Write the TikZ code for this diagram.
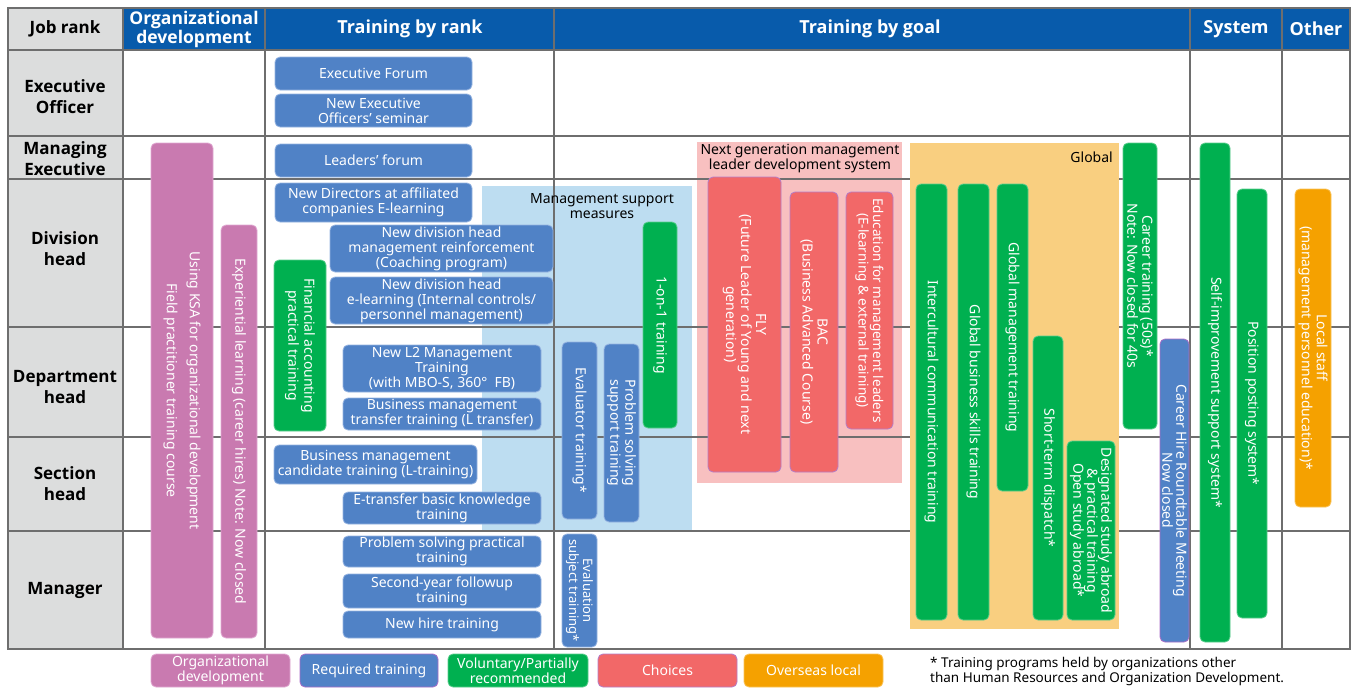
\documentclass[tikz,border=0pt]{standalone}
\usepackage{fontspec}
\setmainfont{Noto Sans}
\newfontfamily\hfam{Open Sans}
\definecolor{cHead}{RGB}{8,91,171}
\definecolor{cGray}{RGB}{220,221,221}
\definecolor{cGrid}{RGB}{110,110,110}
\definecolor{cReq}{RGB}{80,130,198}
\definecolor{cReqB}{RGB}{150,180,225}
\definecolor{cPurB}{RGB}{170,110,200}
\definecolor{cVol}{RGB}{0,176,80}
\definecolor{cVolB}{RGB}{90,205,140}
\definecolor{cOrg}{RGB}{201,122,176}
\definecolor{cOrgB}{RGB}{225,170,210}
\definecolor{cCho}{RGB}{242,104,104}
\definecolor{cChoB}{RGB}{180,125,200}
\definecolor{cOvs}{RGB}{245,161,0}
\definecolor{cOvsB}{RGB}{250,195,90}
\definecolor{cLB}{RGB}{189,221,241}
\definecolor{cLP}{RGB}{248,192,192}
\definecolor{cLO}{RGB}{249,207,128}
\newcommand\bodyfont{\fontsize{14}{15}\selectfont}
\newcommand\headfont{\hfam\bfseries\fontsize{18}{20}\selectfont}
\newcommand\rankfont{\hfam\bfseries\fontsize{17}{21}\selectfont}
\newcommand{\HB}[7]{\node[#2, minimum width={(#5)-(#3)}, minimum height={(#6)-(#4)}] (#1) at ({((#3)+(#5))/2},{((#4)+(#6))/2}) {#7};}
\newcommand{\VB}[7]{\node[#2, rotate=-90, minimum width={(#6)-(#4)}, minimum height={(#5)-(#3)}] (#1) at ({((#3)+(#5))/2},{((#4)+(#6))/2}) {#7};}
\tikzset{
  bx/.style={rounded corners=5pt, inner sep=0pt, align=center, text=white, font=\bodyfont, line width=0.8pt},
  req/.style={bx, fill=cReq, draw=cReqB},
  reqp/.style={bx, fill=cReq, draw=cPurB},
  vol/.style={bx, fill=cVol, draw=cVolB},
  org/.style={bx, fill=cOrg, draw=cOrgB},
  cho/.style={bx, fill=cCho, draw=cChoB},
  ovs/.style={bx, fill=cOvs, draw=cOvsB},
  region/.style={inner sep=0pt},
  grid/.style={draw=cGrid, line width=1.5pt},
  hd/.style={font=\headfont, text=white, align=center},
  rk/.style={font=\rankfont, text=black, align=center},
  ttl/.style={font=\bodyfont, text=black, align=center, inner sep=0pt},
}
\begin{document}
\begin{tikzpicture}[x=1pt,y=-1pt]
\useasboundingbox (0,0) rectangle (1353,689);
\fill[white] (0,0) rectangle (1353,689);
% header and rank column backgrounds
\fill[cHead] (8,8) rectangle (1350,50);
\fill[cGray] (8,8) rectangle (123,649);
% light regions under the grid
\HB{msreg}{region, fill=cLB}{482}{186}{692}{530}{}
\HB{ngreg}{region, fill=cLP}{697}{142}{902}{483}{}
% grid
\foreach \yy in {50,136,179,327,437,531} \draw[grid] (8,\yy) -- (1350,\yy);
\foreach \xx in {123,265,554,1190,1282} \draw[grid] (\xx,8) -- (\xx,649);
\draw[grid] (8,8) rectangle (1350,649);
% global region over the grid
\HB{glreg}{region, fill=cLO}{910}{143}{1119}{629}{}
% header texts
\node[rk] (hjob) at (65,29) {Job rank};
\node[hd, font=\hfam\bfseries\fontsize{17.5}{19}\selectfont] (horg) at (194,29) {Organizational\\development};
\node[hd] (hrank) at (410,29) {Training by rank};
\node[hd] (hgoal) at (870,29) {Training by goal};
\node[hd] (hsys) at (1236,29) {System};
\node[hd] (hoth) at (1316,29) {Other};
% rank labels
\node[rk] (r1) at (65,97) {Executive\\Officer};
\node[rk] (r2) at (65,159) {Managing\\Executive};
\node[rk] (r3) at (65,249) {Division\\head};
\node[rk] (r4) at (65,387) {Department\\head};
\node[rk] (r5) at (65,484) {Section\\head};
\node[rk] (r6) at (65,590) {Manager};
% region titles
\node[ttl] (mst) at (602,206) {Management support\\measures};
\node[ttl] (ngt) at (800,159) {Next generation management\\leader development system};
\node[ttl, anchor=east] (glt) at (1113,157) {Global};
% organizational development
\VB{ksa}{org, font=\fontsize{14}{23}\selectfont}{151}{143}{213}{638}{Using KSA for organizational development\\Field practitioner training course}
\VB{exl}{org}{221}{225}{257}{638}{Experiential learning (career hires) Note: Now closed}
% training by rank
\HB{ef}{req}{275}{57}{472}{90}{Executive Forum}
\HB{neo}{req}{275}{94}{472}{127}{New Executive\\Officers' seminar}
\HB{lf}{req}{275}{144}{472}{177}{Leaders' forum}
\HB{nd}{req}{275}{183}{472}{222}{New Directors at affiliated\\companies E-learning}
\HB{ndh}{req}{330}{225}{553}{272}{New division head\\management reinforcement\\(Coaching program)}
\HB{nde}{req}{330}{277}{553}{324}{New division head\\e-learning (Internal controls/\\personnel management)}
\VB{fa}{vol, font=\fontsize{14}{16}\selectfont}{274}{260}{326}{431}{Financial accounting\\practical training}
\HB{l2}{req}{343}{345}{541}{392}{New L2 Management\\Training\\(with MBO-S, 360°\ \ FB)}
\HB{bmt}{req}{343}{398}{541}{430}{Business management\\transfer training (L transfer)}
\HB{bmc}{req}{274}{445}{477}{484}{Business management\\candidate training (L-training)}
\HB{etr}{req}{343}{492}{541}{524}{E-transfer basic knowledge\\training}
\HB{psp}{req}{343}{536}{541}{567}{Problem solving practical\\training}
\HB{sy}{req}{343}{574}{541}{608}{Second-year followup\\training}
\HB{nh}{req}{343}{611}{541}{638}{New hire training}
% management support measures
\VB{oo}{vol}{643}{222}{677}{428}{1-on-1 training}
\VB{ev}{req}{562}{342}{597}{519}{Evaluator training*}
\VB{pss}{req}{604}{344}{639}{522}{Problem solving\\support training}
\VB{est}{req, font=\fontsize{13}{14}\selectfont}{562}{534}{597}{647}{Evaluation\\subject training*}
% next generation
\VB{fly}{cho}{708}{177}{781}{472}{FLY\\(Future Leader of Young and next\\generation)}
\VB{bac}{cho}{790}{192}{838}{472}{BAC\\(Business Advanced Course)}
\VB{edu}{cho, font=\fontsize{13.5}{14.5}\selectfont}{846}{192}{893}{429}{Education for management leaders\\(E-learning \& external training)}
% global
\VB{ic}{vol}{916}{184}{947}{620}{Intercultural communication training}
\VB{gb}{vol}{958}{184}{989}{620}{Global business skills training}
\VB{gm}{vol}{997}{184}{1028}{491}{Global management training}
\VB{sd}{vol}{1033}{336}{1063}{620}{Short-term dispatch*}
\VB{ds}{vol, font=\fontsize{14}{14}\selectfont}{1067}{441}{1115}{620}{Designated study abroad\\\& practical training\\Open study abroad*}
\VB{ct}{vol}{1123}{143}{1157}{429}{Career training (50s)*\\Note: Now closed for 40s}
\VB{chr}{reqp, font=\fontsize{14}{14}\selectfont}{1160}{339}{1189}{642}{Career Hire Roundtable Meeting\\Now closed}
% system / other
\VB{sis}{vol}{1200}{143}{1230}{642}{Self-improvement support system*}
\VB{pps}{vol}{1237}{189}{1267}{618}{Position posting system*}
\VB{ls}{ovs}{1295}{189}{1331}{507}{Local staff\\(management personnel education)*}
% legend
\HB{lg1}{org}{151}{654}{290}{687}{Organizational\\development}
\HB{lg2}{reqp}{300}{654}{438}{687}{Required training}
\HB{lg3}{vol}{448}{654}{588}{687}{Voluntary/Partially\\recommended}
\HB{lg4}{cho}{598}{654}{737}{687}{Choices}
\HB{lg5}{ovs}{744}{654}{883}{687}{Overseas local}
\node[anchor=west, align=left, font=\fontsize{13.5}{15}\selectfont, inner sep=0pt] (fn) at (930,671) {* Training programs held by organizations other\\than Human Resources and Organization Development.};
\end{tikzpicture}
\end{document}
